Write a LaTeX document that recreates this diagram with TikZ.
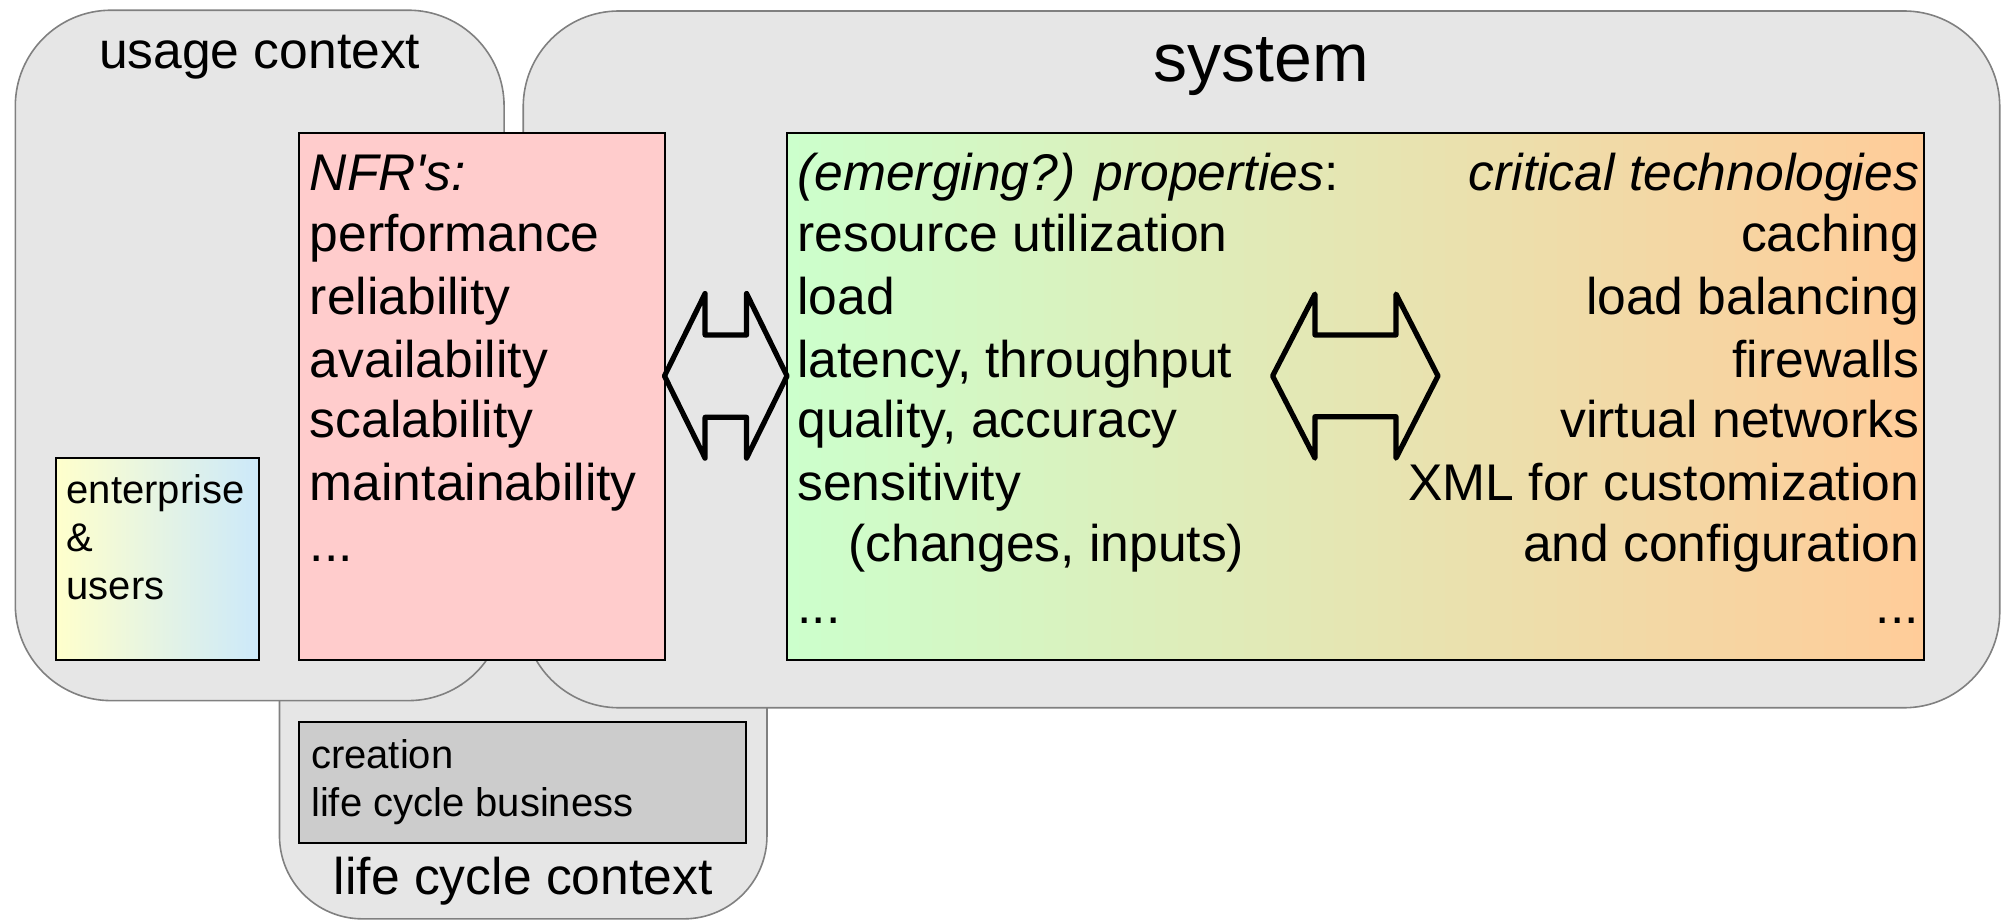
\documentclass[tikz,border=0pt]{standalone}
\usepackage{fontspec}
\setmainfont{Liberation Sans}
\usetikzlibrary{fit}
\definecolor{ctxfill}{HTML}{E6E6E6}
\definecolor{ctxline}{HTML}{808080}
\definecolor{nfrfill}{HTML}{FFCCCC}
\definecolor{propL}{HTML}{CCFFCC}
\definecolor{propR}{HTML}{FFCC99}
\definecolor{entL}{HTML}{FFFFCC}
\definecolor{entR}{HTML}{CCE9FA}
\definecolor{lcfill}{HTML}{CCCCCC}
\begin{document}
\begin{tikzpicture}[x=0.6381pt,y=-0.6381pt,
 ctx/.style={draw=ctxline, fill=ctxfill, line width=0.8pt, rounded corners=47.9pt, inner sep=0pt},
 lcctx/.style={ctx, rounded corners=41.5pt},
 box/.style={draw=black, line width=1pt, inner sep=0pt},
 big/.style={font=\fontsize{25.8pt}{31pt}\selectfont, inner sep=0pt},
 small/.style={font=\fontsize{20pt}{24pt}\selectfont, inner sep=0pt},
 ttl/.style={font=\fontsize{34pt}{40pt}\selectfont, inner sep=0pt},
 lt/.style={anchor=base west},
 rt/.style={anchor=base east},
 dbl/.style={draw=black, line width=2.6pt, line join=round, line cap=round}]
\useasboundingbox (0,0) rectangle (1568,721);
% context boxes
\node[lcctx, fit={(219,300) (601,720)}] (lifecycle) {};
\node[ctx, fit={(12,8) (395,549)}] (usage) {};
\node[ctx, fit={(410,8.6) (1567,554.6)}] (system) {};
% titles
\node[big, anchor=base] (usagettl) at (203.5,53.5) {usage context};
\node[ttl, anchor=base] (systemttl) at (988.5,64) {system};
\node[big, anchor=base] (lcttl) at (410,701) {life cycle context};
% inner boxes
\node[box, fit={(43.9,358.6) (203,517.2)}, left color=entL, right color=entR] (ent) {};
\node[box, fit={(234.6,104.2) (520.7,517.2)}, fill=nfrfill] (nfr) {};
\node[box, fit={(616.7,104.2) (1507.6,517.2)}, left color=propL, right color=propR] (prop) {};
\node[box, fit={(234.6,565.5) (584.6,660.8)}, fill=lcfill] (lcbox) {};
% enterprise text
\node[small, lt] (ent1) at (52,394.4) {enterprise};
\node[small, lt] (ent2) at (52,432.3) {\&};
\node[small, lt] (ent3) at (52,470.1) {users};
% life cycle text
\node[small, lt] (lc1) at (243.5,602) {creation};
\node[small, lt] (lc2) at (243.5,640) {life cycle business};
% NFR text
\node[big, lt] (n0) at (242.5,149) {\textit{NFR\textquotesingle s:}};
\node[big, lt] (n1) at (242.5,197) {performance};
\node[big, lt] (n2) at (242.5,246.5) {reliability};
\node[big, lt] (n3) at (242.5,295.5) {availability};
\node[big, lt] (n4) at (242.5,343) {scalability};
\node[big, lt] (n5) at (242.5,391.8) {maintainability};
\node[big, lt] (n6) at (242.5,440) {...};
% properties text
\node[big, lt] (p0) at (624.5,149) {\textit{(emerging?) properties}:};
\node[big, lt] (p1) at (624.5,197) {resource utilization};
\node[big, lt] (p2) at (624.5,246.5) {load};
\node[big, lt] (p3) at (624.5,295.5) {latency, throughput};
\node[big, lt] (p4) at (624.5,343) {quality, accuracy};
\node[big, lt] (p5) at (624.5,391.8) {sensitivity};
\node[big, lt] (p6) at (664.5,440) {(changes, inputs)};
\node[big, lt] (p7) at (624.5,488.5) {...};
% technologies text
\node[big, rt] (t0) at (1504,149) {\textit{critical technologies}};
\node[big, rt] (t1) at (1504,197) {caching};
\node[big, rt] (t2) at (1504,246.5) {load balancing};
\node[big, rt] (t3) at (1504,295.5) {firewalls};
\node[big, rt] (t4) at (1504,343) {virtual networks};
\node[big, rt] (t5) at (1504,391.8) {XML for customization};
\node[big, rt] (t6) at (1504,440) {and configuration};
\node[big, rt] (t7) at (1504,488.5) {...};
% double arrows
\draw[dbl] (520.7,294.6) -- (552.5,230) -- (552.5,262.5) -- (585,262.5) -- (585,230)
  -- (616.7,294.6) -- (585,359) -- (585,327) -- (552.5,327) -- (552.5,359) -- cycle;
\draw[dbl] (997.2,294.6) -- (1030.4,230.4) -- (1030.4,262.5) -- (1093.9,262.5) -- (1093.9,230.4)
  -- (1126.8,294.6) -- (1093.9,359) -- (1093.9,326.5) -- (1030.4,326.5) -- (1030.4,359) -- cycle;
\end{tikzpicture}
\end{document}
